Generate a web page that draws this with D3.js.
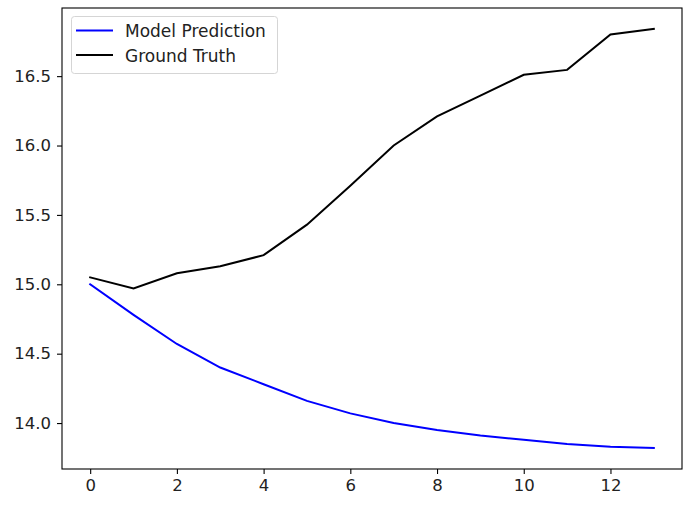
<!DOCTYPE html>
<html>
<head>
<meta charset="utf-8">
<script src="https://cdn.jsdelivr.net/npm/d3@7"></script>
<style>
  html, body { margin: 0; padding: 0; background: #fff; }
  svg text { font-family: "DejaVu Sans", sans-serif; }
</style>
</head>
<body>
<svg id="chart" width="693" height="505"></svg>
<script>
// ---- data ----
const steps = [0, 1, 2, 3, 4, 5, 6, 7, 8, 9, 10, 11, 12, 13];
const modelPrediction = [15.00, 14.78, 14.57, 14.40, 14.28, 14.16, 14.07, 14.00, 13.95, 13.91, 13.88, 13.85, 13.83, 13.82];
const groundTruth = [15.05, 14.97, 15.08, 15.13, 15.21, 15.43, 15.71, 16.00, 16.21, 16.36, 16.51, 16.545, 16.80, 16.84];
const xTicks = [0, 2, 4, 6, 8, 10, 12];
const yTicks = [14.0, 14.5, 15.0, 15.5, 16.0, 16.5];
const seriesNames = ["Model Prediction", "Ground Truth"];
const seriesColors = ["#0000ff", "#000000"];

// ---- layout ----
const svg = d3.select("#chart");
const L = 62, R = 682, T = 8, B = 469;

const allY = modelPrediction.concat(groundTruth);
const yMin = d3.min(allY), yMax = d3.max(allY), yr = yMax - yMin;
const xMin = d3.min(steps), xMax = d3.max(steps), xr = xMax - xMin;

const x = d3.scaleLinear().domain([xMin - 0.05 * xr, xMax + 0.05 * xr]).range([L, R]);
const y = d3.scaleLinear().domain([yMin - 0.05 * yr, yMax + 0.05 * yr]).range([B, T]);

const line = d3.line().x((d, i) => x(steps[i])).y(d => y(d));

svg.append("path").datum(modelPrediction)
  .attr("d", line).attr("fill", "none")
  .attr("stroke", seriesColors[0]).attr("stroke-width", 2).attr("stroke-linecap", "square");
svg.append("path").datum(groundTruth)
  .attr("d", line).attr("fill", "none")
  .attr("stroke", seriesColors[1]).attr("stroke-width", 2).attr("stroke-linecap", "square");

// axes
const xAxis = svg.append("g").attr("transform", `translate(0,${B})`)
  .call(d3.axisBottom(x).tickValues(xTicks).tickFormat(d3.format("d")).tickSize(5).tickSizeOuter(0).tickPadding(5));
const yAxis = svg.append("g").attr("transform", `translate(${L},0)`)
  .call(d3.axisLeft(y).tickValues(yTicks).tickFormat(d3.format(".1f")).tickSize(5).tickSizeOuter(0).tickPadding(6));
[xAxis, yAxis].forEach(g => {
  g.select(".domain").remove();
  g.selectAll(".tick line").attr("stroke", "#000").attr("stroke-width", 1.1);
  g.selectAll(".tick text").attr("fill", "#222").attr("font-size", 16.5).attr("font-family", "DejaVu Sans, sans-serif");
});

// frame
svg.append("rect").attr("x", L).attr("y", T).attr("width", R - L).attr("height", B - T)
  .attr("fill", "none").attr("stroke", "#000").attr("stroke-width", 1.1);

// legend
const lg = svg.append("g");
lg.append("rect").attr("x", 71.5).attr("y", 16.5).attr("width", 206).attr("height", 57)
  .attr("rx", 3).attr("fill", "rgba(255,255,255,0.8)").attr("stroke", "#d5d5d5").attr("stroke-width", 1);
seriesNames.forEach((name, i) => {
  const cy = 30.5 + i * 24.5;
  lg.append("line").attr("x1", 76).attr("x2", 113).attr("y1", cy).attr("y2", cy)
    .attr("stroke", seriesColors[i]).attr("stroke-width", 2);
  lg.append("text").attr("x", 125).attr("y", cy + 6.5).attr("font-size", 17).attr("fill", "#222").text(name);
});
</script>
</body>
</html>
